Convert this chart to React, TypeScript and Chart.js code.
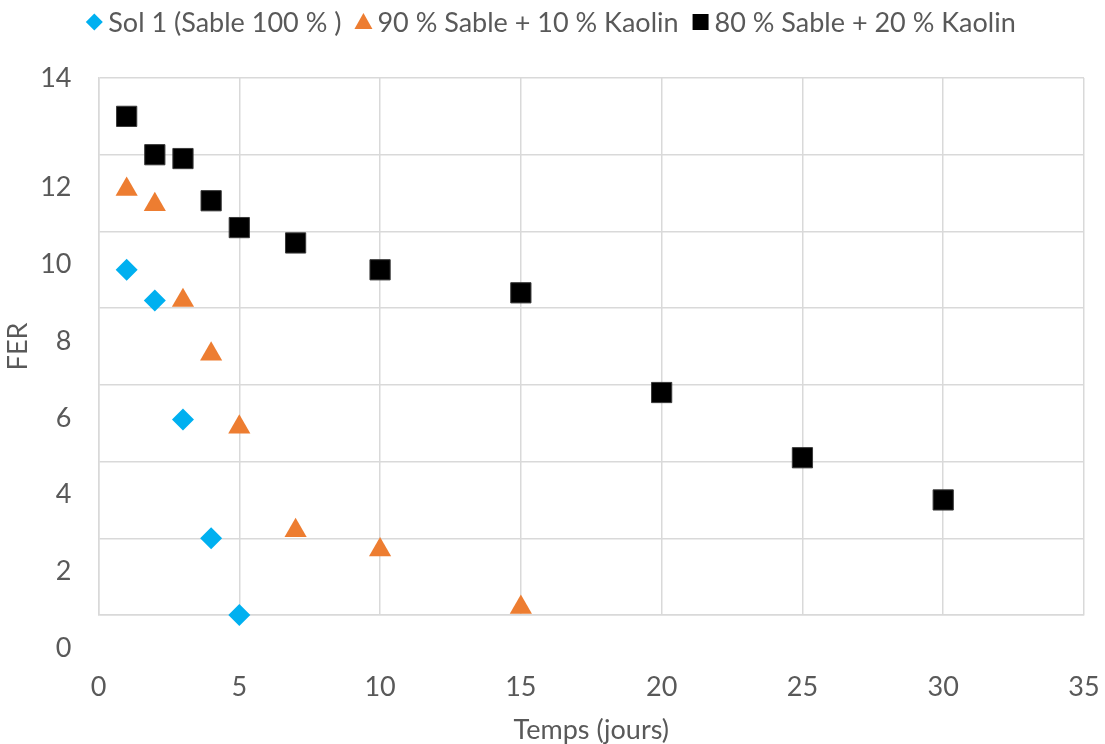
import React, { useEffect, useRef } from "react";
import { Chart, registerables } from "chart.js";

Chart.register(...registerables);

const FONT_FAMILY = "Lato, 'Open Sans', sans-serif";
const FONT_SIZE = 27;
const TEXT_COLOR = "#595959";
const GRID_COLOR = "#D9D9D9";

const seriesNames = [
  "Sol 1 (Sable 100 % )",
  "90 % Sable + 10 % Kaolin",
  "80 % Sable + 20 % Kaolin",
];
const seriesColors = ["#00B0F0", "#ED7D31", "#000000"];

const sol1Days = [1, 2, 3, 4, 5];
const sol1Fer = [9.0, 8.2, 5.1, 2.0, 0.0];

const kaolin10Days = [1, 2, 3, 4, 5, 7, 10, 15];
const kaolin10Fer = [11.1, 10.7, 8.2, 6.8, 4.9, 2.2, 1.7, 0.2];

const kaolin20Days = [1, 2, 3, 4, 5, 7, 10, 15, 20, 25, 30];
const kaolin20Fer = [13.0, 12.0, 11.9, 10.8, 10.1, 9.7, 9.0, 8.4, 5.8, 4.1, 3.0];

const xTickValues = [0, 5, 10, 15, 20, 25, 30, 35];
const yTickLabels = [0, 2, 4, 6, 8, 10, 12, 14];
const X_MIN = 0;
const X_MAX = 35;
const Y_MIN = 0;
const Y_MAX = 14;
const Y_STEP = 2;

const xAxisTitle = "Temps (jours)";
const yAxisTitle = "FER";

const toPoints = (xs: number[], ys: number[]) => xs.map((x, i) => ({ x, y: ys[i] }));

const font = () => `${FONT_SIZE}px ${FONT_FAMILY}`;

const yLabelsPlugin = {
  id: "yLabelsShifted",
  afterDraw(chart: any) {
    const scale = chart.scales.y;
    const ctx = chart.ctx;
    ctx.save();
    ctx.font = font();
    ctx.fillStyle = TEXT_COLOR;
    ctx.textAlign = "right";
    ctx.textBaseline = "middle";
    const step = scale.getPixelForValue(Y_MIN) - scale.getPixelForValue(Y_MIN + Y_STEP);
    const shift = step * 0.43;
    yTickLabels.forEach((v) => {
      const p = scale.getPixelForValue(v) + (v === Y_MAX ? 0 : shift);
      ctx.fillText(String(v), chart.chartArea.left - 27, p);
    });
    ctx.restore();
  },
};

function drawMarker(ctx: CanvasRenderingContext2D, style: string, cx: number, cy: number, color: string) {
  ctx.fillStyle = color;
  ctx.beginPath();
  if (style === "rectRot") {
    const r = 8.5;
    ctx.moveTo(cx, cy - r);
    ctx.lineTo(cx + r, cy);
    ctx.lineTo(cx, cy + r);
    ctx.lineTo(cx - r, cy);
  } else if (style === "triangle") {
    ctx.moveTo(cx, cy - 9);
    ctx.lineTo(cx + 9, cy + 7);
    ctx.lineTo(cx - 9, cy + 7);
  } else {
    ctx.rect(cx - 8, cy - 8, 16, 16);
  }
  ctx.closePath();
  ctx.fill();
}

const legendPlugin = {
  id: "topLegend",
  afterDraw(chart: any) {
    const ctx = chart.ctx as CanvasRenderingContext2D;
    ctx.save();
    ctx.font = font();
    ctx.textBaseline = "middle";
    ctx.textAlign = "left";
    const markerW = 18;
    const gap = 5;
    const spacing = 13;
    const items = chart.data.datasets.map((ds: any) => ({
      label: ds.label as string,
      color: ds.backgroundColor as string,
      style: ds.pointStyle as string,
    }));
    const widths = items.map((it: any) => markerW + gap + ctx.measureText(it.label).width);
    const total = widths.reduce((a: number, b: number) => a + b, 0) + spacing * (items.length - 1);
    let x = (chart.width - total) / 2 - 2;
    const y = 22;
    items.forEach((it: any, i: number) => {
      drawMarker(ctx, it.style, x + markerW / 2, y, it.color);
      ctx.fillStyle = TEXT_COLOR;
      ctx.fillText(it.label, x + markerW + gap, y + 1);
      x += widths[i] + spacing;
    });
    ctx.restore();
  },
};

export default function App() {
  const canvasRef = useRef<HTMLCanvasElement | null>(null);

  useEffect(() => {
    if (!canvasRef.current) return;
    const chart = new Chart(canvasRef.current, {
      type: "scatter",
      data: {
        datasets: [
          {
            label: seriesNames[0],
            data: toPoints(sol1Days, sol1Fer),
            backgroundColor: seriesColors[0],
            borderColor: seriesColors[0],
            borderWidth: 0,
            pointStyle: "rectRot",
            pointRadius: 11,
            clip: false,
          },
          {
            label: seriesNames[1],
            data: toPoints(kaolin10Days, kaolin10Fer),
            backgroundColor: seriesColors[1],
            borderColor: seriesColors[1],
            borderWidth: 0,
            pointStyle: "triangle",
            pointRadius: 12.8,
            clip: false,
          },
          {
            label: seriesNames[2],
            data: toPoints(kaolin20Days, kaolin20Fer),
            backgroundColor: seriesColors[2],
            borderColor: "#3a3a3a",
            borderWidth: 1,
            pointStyle: "rect",
            pointRadius: 14.3,
            clip: false,
          },
        ],
      },
      options: {
        animation: false,
        responsive: true,
        maintainAspectRatio: false,
        layout: { padding: { top: 78, right: 21, bottom: 0, left: 0 } },
        plugins: {
          legend: { display: false },
          tooltip: { enabled: false },
        },
        scales: {
          x: {
            type: "linear",
            min: X_MIN,
            max: X_MAX,
            afterBuildTicks: (scale: any) => {
              scale.ticks = xTickValues.map((v) => ({ value: v }));
            },
            afterFit: (scale: any) => {
              scale.height = 129;
            },
            grid: {
              color: GRID_COLOR,
              lineWidth: 1.5,
              drawTicks: true,
              tickLength: 54,
              tickColor: "rgba(0,0,0,0)",
            },
            border: { color: GRID_COLOR, width: 1.5 },
            ticks: {
              padding: 2,
              color: TEXT_COLOR,
              font: { family: FONT_FAMILY, size: FONT_SIZE },
              maxRotation: 0,
            },
            title: {
              display: true,
              text: xAxisTitle,
              color: TEXT_COLOR,
              font: { family: FONT_FAMILY, size: FONT_SIZE, lineHeight: 1 },
              padding: { top: 0, bottom: 0 },
            },
          },
          y: {
            type: "linear",
            min: Y_MIN,
            max: Y_MAX,
            ticks: { stepSize: Y_STEP, display: false },
            afterFit: (scale: any) => {
              scale.width = 98.5;
            },
            grid: { color: GRID_COLOR, lineWidth: 1.5, drawTicks: false },
            border: { color: GRID_COLOR, width: 1.5 },
            title: {
              display: true,
              text: yAxisTitle,
              color: TEXT_COLOR,
              font: { family: FONT_FAMILY, size: FONT_SIZE, lineHeight: 1.2 },
              padding: { top: 2, bottom: 0 },
            },
          },
        },
      },
      plugins: [yLabelsPlugin, legendPlugin],
    });
    return () => chart.destroy();
  }, []);

  return (
    <div style={{ position: "absolute", left: 0, top: 0, width: 1105, height: 744 }}>
      <canvas ref={canvasRef} />
    </div>
  );
}
